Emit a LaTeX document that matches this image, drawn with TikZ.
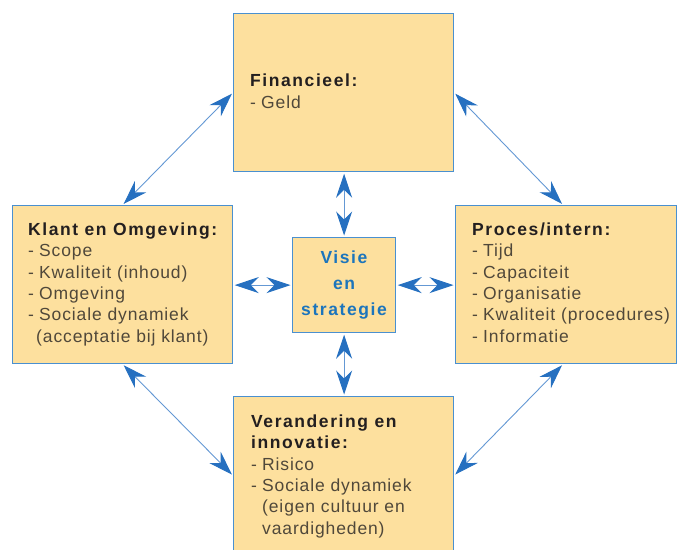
\documentclass[tikz,border=0pt]{standalone}
\usepackage{fontspec}
\setmainfont{Liberation Sans}[LetterSpace=5, BoldFeatures={LetterSpace=9}]
\usetikzlibrary{arrows.meta,calc}
\definecolor{boxfill}{RGB}{253,224,158}
\definecolor{boxline}{RGB}{74,144,208}
\definecolor{arrowblue}{RGB}{38,112,192}
\definecolor{linkblue}{RGB}{100,152,212}
\definecolor{itemgray}{RGB}{80,72,58}
\definecolor{headblack}{RGB}{35,31,32}
\definecolor{titleblue}{RGB}{28,117,188}
\newcommand{\hdr}[1]{{\color{headblack}\bfseries #1}}
\newcommand{\itm}{\makebox[11pt][l]{-}}
\begin{document}
\begin{tikzpicture}[x=1pt,y=-1pt,
  box/.style={draw=boxline, line width=1.2pt, fill=boxfill, inner sep=0pt, anchor=north west},
  bigbox/.style={box, minimum width=220pt, minimum height=158pt},
  txt/.style={anchor=base west, align=left, inner sep=0pt, text=itemgray,
    font=\fontsize{17.5pt}{21.3pt}\selectfont},
  link/.style={draw=linkblue, line width=0.9pt,
    arrows={Stealth[length=24pt,width=16pt,inset=8pt,color=arrowblue]-Stealth[length=24pt,width=16pt,inset=8pt,color=arrowblue]},
    shorten <=1.5pt, shorten >=1.5pt}]
\useasboundingbox (0,0) rectangle (677,549);

\node[bigbox] (top) at (233,13) {};
\node[bigbox] (left) at (12,205) {};
\node[bigbox, minimum width=221pt] (right) at (455,205) {};
\node[bigbox] (bottom) at (233,396) {};
\node[box, minimum width=103pt, minimum height=95pt] (center) at (292,237) {};

% base anchor = baseline of the last line
\node[txt] (toptxt) at (250,108) {\hdr{Financieel:}\\\itm Geld};
\node[txt] (lefttxt) at (28,342) {\hdr{Klant en Omgeving:}\\\itm Scope\\\itm Kwaliteit (inhoud)\\\itm Omgeving\\\itm Sociale dynamiek\\\hspace*{8pt}(acceptatie bij klant)};
\node[txt] (righttxt) at (472,342) {\hdr{Proces/intern:}\\\itm Tijd\\\itm Capaciteit\\\itm Organisatie\\\itm Kwaliteit (procedures)\\\itm Informatie};
\node[txt] (bottomtxt) at (251,534) {\hdr{Verandering en}\\\hdr{innovatie:}\\\itm Risico\\\itm Sociale dynamiek\\\hspace*{11pt}(eigen cultuur en\\\hspace*{11pt}vaardigheden)};
\node[anchor=base, align=center, inner sep=0pt, text=titleblue,
  font=\fontsize{17.5pt}{26pt}\selectfont\bfseries] (centertxt) at (344,315) {Visie\\en\\strategie};

\draw[link] (center.north |- top.south) -- (center.north);
\draw[link] (center.south) -- (center.south |- bottom.north);
\draw[link] (left.east |- center.west) -- (center.west);
\draw[link] (center.east) -- (right.west |- center.east);
\draw[link] (left.north) -- (top.west);
\draw[link] (top.east) -- ($(right.north)+(-3,0)$);
\draw[link] ($(right.south)+(-3,0)$) -- (bottom.east);
\draw[link] (left.south) -- (bottom.west);
\end{tikzpicture}
\end{document}
